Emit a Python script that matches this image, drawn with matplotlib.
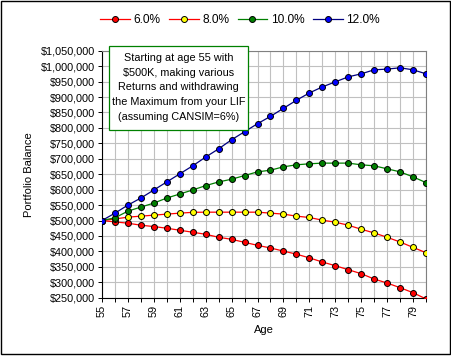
"""LIF : solde du portefeuille selon le rendement, retrait maximum chaque année."""
import matplotlib.pyplot as plt
import matplotlib.patches as mpatches
from matplotlib.ticker import FuncFormatter, MultipleLocator

plt.rcParams["font.family"] = ["Liberation Sans", "DejaVu Sans"]

AGES = list(range(55, 81))
LABELS = ["6.0%", "8.0%", "10.0%", "12.0%"]

# valeurs, âge 55 à 80
R6 = [500000, 495500, 491300, 484800, 480400, 475000, 468500, 462000, 455400,
      445700, 439100, 429300, 419600, 411000, 401000, 391000, 379000, 365600,
      353700, 340700, 327800, 310500, 297500, 282400, 266200, 246000]
R8 = [500000, 505000, 510900, 514100, 517400, 520700, 523900, 526500, 527000,
      527000, 527000, 527000, 527000, 523900, 520700, 514100, 509800, 501100,
      494600, 484800, 471700, 459800, 445700, 430400, 413000, 395700]
R10 = [500000, 508800, 530400, 543500, 556500, 572800, 585900, 598900, 613000,
       625000, 633700, 645700, 657600, 663000, 673900, 680400, 683700, 685900,
       685900, 685900, 680400, 677200, 667400, 657600, 641300, 622800]
R12 = [500000, 523900, 550000, 572800, 598900, 625000, 651100, 677200, 705500,
       732200, 761600, 787600, 813600, 837300, 863400, 889400, 913200, 932700,
       949000, 965300, 975100, 988100, 990400, 994600, 988100, 975100]

SERIES = [R6, R8, R10, R12]
LIGNES = ["#ff0000", "#ff0000", "#008000", "#000080"]
POINTS = ["#ff0000", "#ffff00", "#008000", "#0000ff"]

W, H = 452, 357
fig = plt.figure(figsize=(W / 100, H / 100), dpi=100)
ax = fig.add_axes([102 / W, 1 - 297.7 / H, 324 / W, 247 / H])

for vals, lab, lc, mc in zip(SERIES, LABELS, LIGNES, POINTS):
    ax.plot(AGES, vals, color=lc, lw=0.9, marker="o", ms=4.3, mfc=mc,
            mec="black", mew=0.7, label=lab, zorder=3)

ax.set_xlim(55, 80)
ax.set_ylim(250000, 1050000)
ax.xaxis.set_major_locator(MultipleLocator(1))
ax.yaxis.set_major_locator(MultipleLocator(50000))
ax.set_xticklabels([str(a) if a % 2 == 1 else "" for a in ax.get_xticks().astype(int)],
                   rotation=90)
ax.yaxis.set_major_formatter(FuncFormatter(lambda v, p: f"${v:,.0f}"))
ax.tick_params(labelsize=7.8, length=3, width=0.7, color="black", pad=2)
ax.grid(color="#c0c0c0", lw=0.8, zorder=0)
ax.set_axisbelow(True)
for cote in ("top", "right"):
    ax.spines[cote].set_color("#808080")
for cote in ("left", "bottom"):
    ax.spines[cote].set_color("black")
for s in ax.spines.values():
    s.set_linewidth(0.8)

ax.set_xlabel("Age", fontsize=8, labelpad=6)
ax.set_ylabel("Portfolio Balance", fontsize=8, labelpad=5)

# encadré vert : rectangle posé à la main, texte centré dedans
fig.patches.append(mpatches.Rectangle((109 / W, 1 - 130 / H), 139 / W, 84 / H,
                                      transform=fig.transFigure, fc="white",
                                      ec="#008000", lw=0.9, zorder=9))
fig.text(178.5 / W, 1 - 87.5 / H,
         "Starting at age 55 with\n$500K, making various\nReturns and withdrawing\n"
         "the Maximum from your LIF\n(assuming CANSIM=6%)",
         ha="center", va="center", fontsize=7.8, linespacing=1.6, zorder=10)

fig.legend(loc="center", bbox_to_anchor=(240 / W, 1 - 20 / H), ncol=4,
           frameon=False, fontsize=8.6, handlelength=2.5, handletextpad=0.3,
           columnspacing=0.7)

fig.patches.append(mpatches.Rectangle((1 / W, 1 - 354 / H), 449 / W, 353 / H,
                                      transform=fig.transFigure, fill=False,
                                      ec="black", lw=1.0))

fig.savefig("out.png", dpi=100)
